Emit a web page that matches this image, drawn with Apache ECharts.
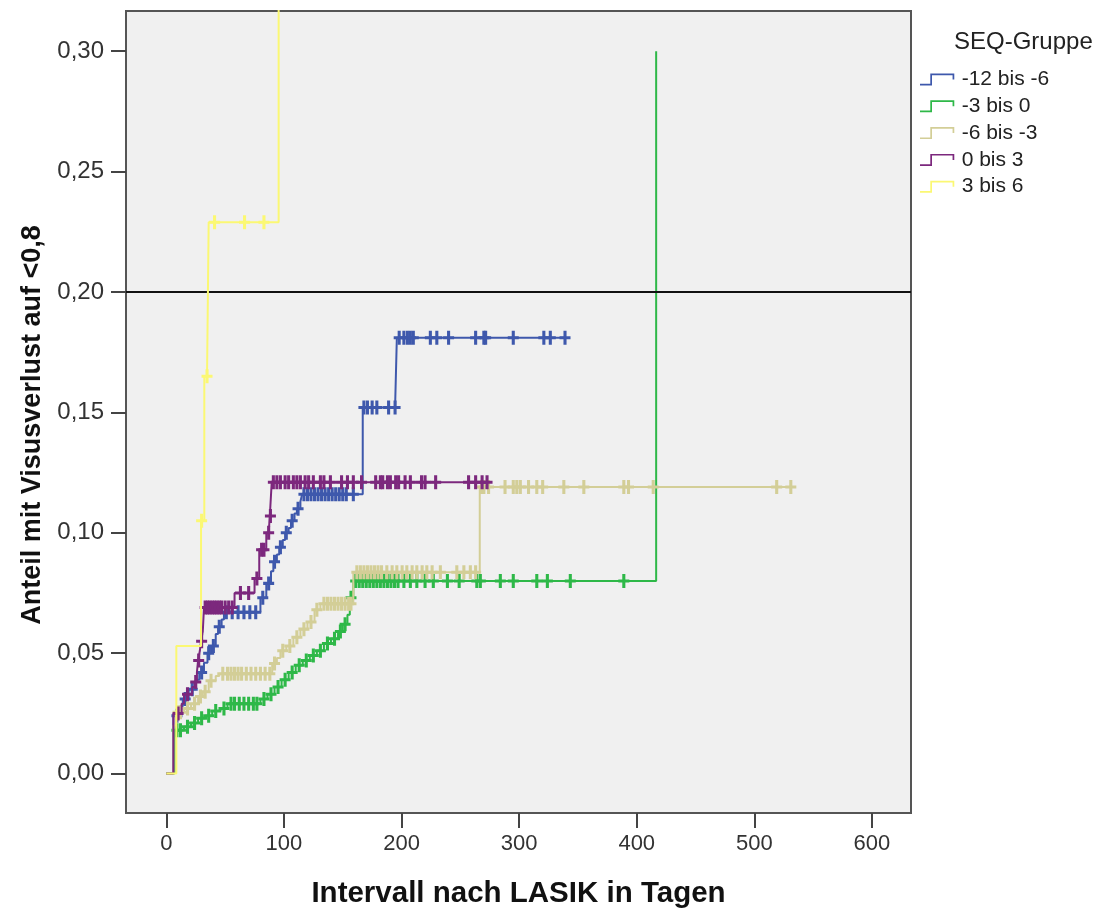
<!DOCTYPE html>
<html><head><meta charset="utf-8">
<script src="https://cdn.jsdelivr.net/npm/echarts@6/dist/echarts.min.js"></script>
<style>html,body{margin:0;padding:0;background:#fff}#c{width:1102px;height:911px}</style>
</head><body><div id="c"></div>
<script>
const groups = ['-12 bis -6', '-3 bis 0', '-6 bis -3', '0 bis 3', '3 bis 6'];
const colors = ['#3E58AC', '#2EB848', '#D3CE97', '#7C287D', '#FBF873'];
const xTicks = [0, 100, 200, 300, 400, 500, 600];
const yTicks = [0, 0.05, 0.10, 0.15, 0.20, 0.25, 0.30];

// step points: [day, cumulative proportion]; censored: days
const blueSteps = [[0,0],[6,0.024],[12,0.028],[14,0.031],[19,0.035],[25,0.039],[28,0.042],[32,0.046],[35,0.05],[38,0.053],[42,0.058],[44,0.061],[47,0.064],[49,0.067],[80,0.073],[85,0.079],[89,0.084],[91,0.088],[94,0.091],[96,0.094],[99,0.097],[101,0.1],[104,0.102],[106,0.105],[109,0.108],[111,0.11],[114,0.113],[115.5,0.116],[167,0.152],[196,0.181]];
const blueCensored = [9,16,22,30,36,40,45,51,56,61,66,71,76,82,87,92,97,102,107,112,117,120,123,126,129,132,135,138,141,144,147,150,153,159,168,171,175,179,189,194.5,198,202,205,207.5,210,224.5,230,240,263,270,271.5,295,321,326.5,339];

const greenSteps = [[0,0],[7,0.018],[15,0.0195],[21,0.021],[27,0.023],[33,0.024],[39,0.026],[46,0.027],[52,0.029],[80,0.031],[86,0.033],[92,0.036],[98,0.039],[104,0.042],[110,0.045],[116,0.047],[122,0.049],[128,0.051],[134,0.054],[140,0.056],[146,0.059],[150,0.062],[154,0.066],[156,0.073],[159,0.08],[416.5,0.30]];
const greenCensored = [9,12,18,24,30,36,42,49,55,58,62,66,70,74,77,83,89,95,101,107,113,119,125,131,137,143,148,152,157,161,164,167,170,173,176,179,182,185,188,191,194,197,202,207.5,213,220,227,239,249,264,267,284,295,315,324,343.5,389];

const tanSteps = [[0,0],[6,0.02],[8,0.0255],[15,0.027],[21,0.029],[27,0.032],[31,0.034],[36,0.0386],[42,0.0405],[45,0.0415],[90,0.0457],[94,0.048],[97,0.051],[102,0.053],[108,0.0566],[114,0.06],[120,0.063],[126,0.068],[131,0.0705],[159,0.0836],[266.5,0.119]];
const tanCensored = [10,12,18,24,29,33,38,48,52,55,58,61,64,68,72,76,80,84,88,92,99,105,111,117,123,128,134,137,140,143,146,149,152,155,157,162,165,168,171,174,177,180,183,187.5,192,196,200.5,204.5,209,213,217.5,221.5,226,233,247,253,258.5,263,268,270,274,288,295,298,301,308,315,320,338,355,389,393,414,519,531];

const purpleSteps = [[0,0],[6,0.025],[13,0.029],[15,0.033],[22,0.036],[24,0.038],[26,0.042],[27,0.047],[28.5,0.051],[29.5,0.055],[31,0.059],[32,0.069],[58,0.075],[75,0.081],[79,0.093],[85,0.1],[88,0.107],[89.6,0.121]];
const purpleCensored = [10,18,25,27.5,30,33,35,37,39,41,43,45,47,50,53,56,63,70,77,81,83,87,88.5,91,94,97,101,104,108,111,114,118,121,125,131,134,139.5,149,154,159,166,178,182,184,188,190.5,195,197.5,203,207.5,217,220,229,257,263,268.5,272.7];

const yellowSteps = [[0,0],[8.5,0.053],[29.5,0.105],[32.3,0.165],[36,0.229],[95.5,0.5]];
const yellowCensored = [30,34.6,41,66.5,83];

const refLine = 0.20;

function merge(steps, cens) {
  const pts = steps.map(s => [s[0], s[1], 0]);
  cens.forEach(d => {
    let lvl = 0;
    steps.forEach(s => { if (s[0] <= d) lvl = s[1]; });
    pts.push([d, lvl, 1]);
  });
  pts.sort((a, b) => a[0] - b[0] || a[2] - b[2]);
  return pts;
}
const allData = [
  merge(blueSteps, blueCensored),
  merge(greenSteps, greenCensored),
  merge(tanSteps, tanCensored),
  merge(purpleSteps, purpleCensored),
  merge(yellowSteps, yellowCensored)
];

const FONT = "'Liberation Sans', Arial, sans-serif";
const plus = 'path://M3.6,0H6.4V5.1H10V7.9H6.4V13H3.6V7.9H0V5.1H3.6Z';
const stepIcon = 'path://M0,12L12,12L12,0L40,0L40,7L38,7L38,2L14,2L14,14L0,14Z';

const series = groups.map((g, i) => {
  const s = {
    name: g,
    type: 'line',
    step: 'end',
    data: allData[i],
    color: colors[i],
    lineStyle: { color: colors[i], width: 2 },
    itemStyle: { color: colors[i], borderWidth: 0 },
    symbol: v => (v[2] ? plus : 'none'),
    symbolSize: [11, 14],
    symbolKeepAspect: false,
    showSymbol: true,
    clip: true,
    emphasis: { disabled: true },
    z: 2 + i
  };
  if (i === 0) {
    s.markLine = {
      silent: true,
      symbol: 'none',
      label: { show: false },
      lineStyle: { color: '#111', width: 2, type: 'solid' },
      emphasis: { disabled: true },
      data: [{ yAxis: refLine }]
    };
  }
  return s;
});

const chart = echarts.init(document.getElementById('c'));
chart.setOption({
  animation: false,
  backgroundColor: '#ffffff',
  title: {
    text: 'SEQ-Gruppe',
    left: 949, top: 25,
    textStyle: { fontFamily: FONT, fontSize: 24, fontWeight: 'normal', color: '#222' }
  },
  legend: {
    orient: 'vertical',
    left: 915, top: 64,
    itemWidth: 39, itemHeight: 12, itemGap: 5.8,
    textStyle: { fontFamily: FONT, fontSize: 21, color: '#222' },
    data: groups.map(n => ({ name: n, icon: stepIcon }))
  },
  grid: {
    left: 126, right: 191, top: 11, bottom: 98,
    outerBoundsMode: 'none',
    containLabel: false,
    show: true, backgroundColor: '#F0F0F0', borderColor: '#555', borderWidth: 2
  },
  xAxis: {
    type: 'value', min: -34.3, max: 633.2,
    name: 'Intervall nach LASIK in Tagen',
    nameLocation: 'middle', nameGap: 66,
    nameTextStyle: { fontFamily: FONT, fontSize: 29.5, fontWeight: 'bold', color: '#111' },
    splitLine: { show: false },
    axisLine: { show: true, onZero: false, lineStyle: { color: '#555', width: 2 } },
    axisTick: { show: true, customValues: xTicks, length: 15, lineStyle: { color: '#444', width: 2 } },
    axisLabel: { customValues: xTicks, margin: 20, fontFamily: FONT, fontSize: 22, color: '#333' }
  },
  yAxis: {
    type: 'value', min: -0.01636, max: 0.3167,
    name: 'Anteil mit Visusverlust auf <0,8',
    nameLocation: 'middle', nameGap: 80, nameRotate: 90,
    nameTextStyle: { fontFamily: FONT, fontSize: 27, fontWeight: 'bold', color: '#111', padding: [0, 26, 0, 0] },
    splitLine: { show: false },
    axisLine: { show: true, onZero: false, lineStyle: { color: '#555', width: 2 } },
    axisTick: { show: true, customValues: yTicks, length: 15, lineStyle: { color: '#444', width: 2 } },
    axisLabel: {
      customValues: yTicks, margin: 22, fontFamily: FONT, fontSize: 24, color: '#333',
      formatter: v => v.toFixed(2).replace('.', ',')
    }
  },
  series: series
});
</script>
</body></html>
